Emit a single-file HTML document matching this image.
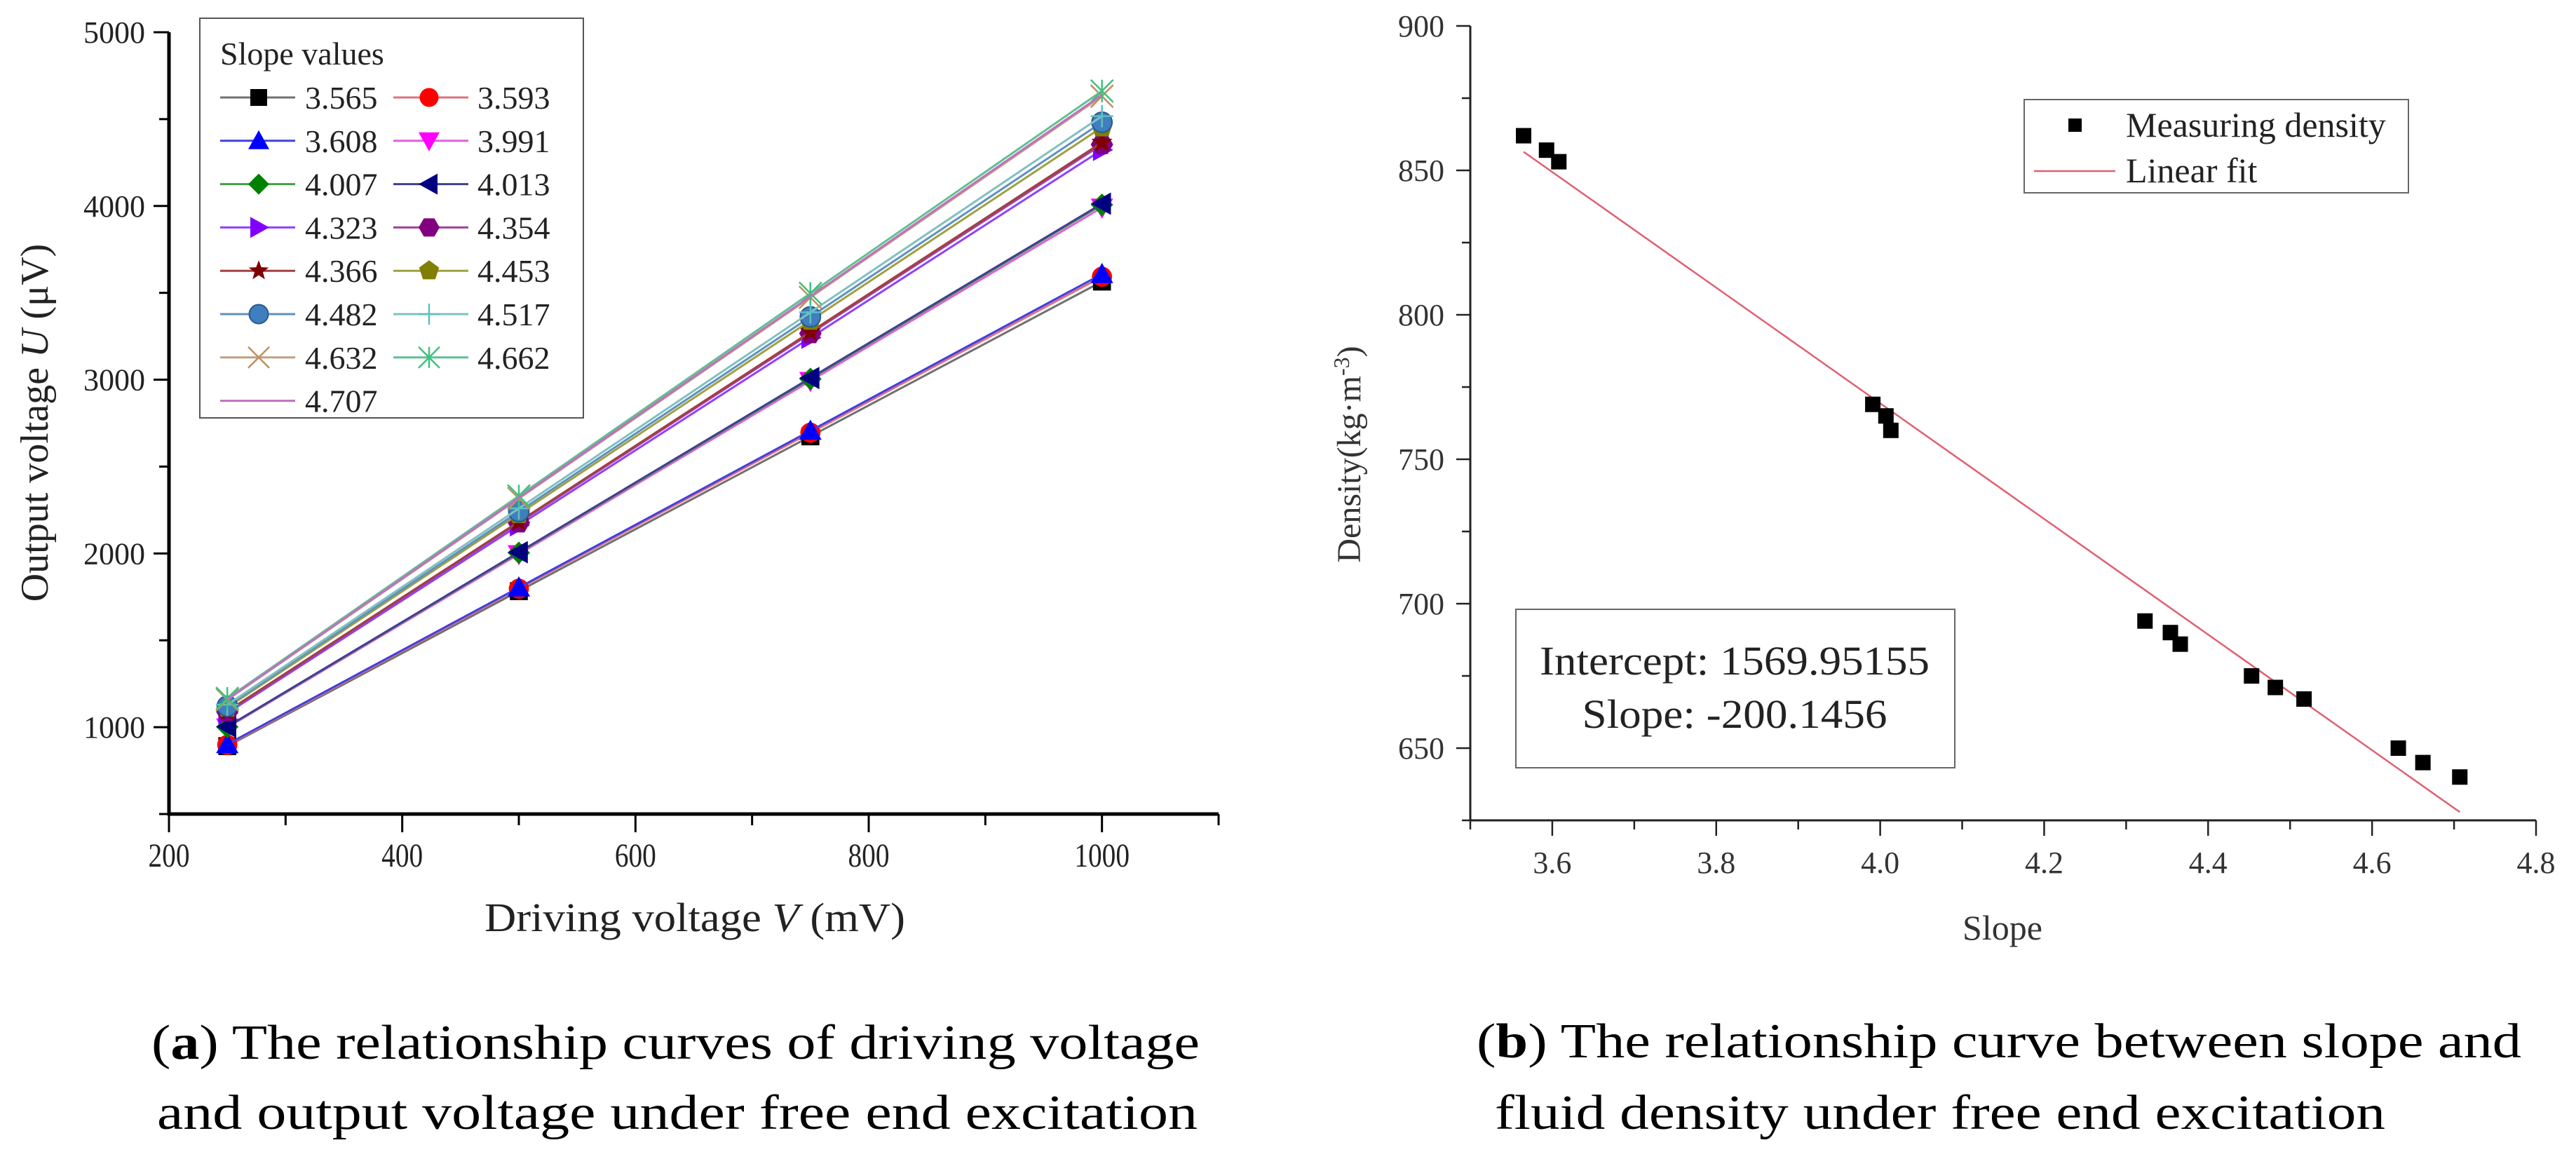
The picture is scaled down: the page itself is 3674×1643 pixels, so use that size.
<!DOCTYPE html>
<html><head><meta charset="utf-8"><style>
html,body{margin:0;padding:0;background:#fff;}
svg{display:block;font-family:"Liberation Serif",serif;}
</style></head><body>
<svg id="fig" width="3674" height="1643" viewBox="0 0 3674 1643">
  <g id="chartA"></g>
  <g id="chartB"></g>
  <text x="216" y="1510" font-size="70" textLength="1495" lengthAdjust="spacingAndGlyphs">(<tspan font-weight="bold">a</tspan>) The relationship curves of driving voltage</text>
  <text x="224" y="1610" font-size="70" textLength="1484" lengthAdjust="spacingAndGlyphs">and output voltage under free end excitation</text>
  <text x="2106" y="1508" font-size="70" textLength="1490" lengthAdjust="spacingAndGlyphs">(<tspan font-weight="bold">b</tspan>) The relationship curve between slope and</text>
  <text x="2132" y="1610" font-size="70" textLength="1270" lengthAdjust="spacingAndGlyphs">fluid density under free end excitation</text>
</svg>
<script>
// ---------- Chart A data ----------
const driveV = [250, 500, 750, 1000];
const seriesNames = ["3.565","3.593","3.608","3.991","4.007","4.013","4.323","4.354","4.366","4.453","4.482","4.517","4.632","4.662","4.707"];
const s3565 = [891, 1783, 2674, 3565];
const s3593 = [898, 1797, 2695, 3593];
const s3608 = [902, 1804, 2706, 3608];
const s3991 = [998, 1996, 2993, 3991];
const s4007 = [1002, 2004, 3005, 4007];
const s4013 = [1003, 2007, 3010, 4013];
const s4323 = [1081, 2162, 3242, 4323];
const s4354 = [1089, 2177, 3266, 4354];
const s4366 = [1092, 2183, 3275, 4366];
const s4453 = [1113, 2227, 3340, 4453];
const s4482 = [1121, 2241, 3362, 4482];
const s4517 = [1129, 2259, 3388, 4517];
const s4632 = [1158, 2316, 3474, 4632];
const s4662 = [1166, 2331, 3497, 4662];
const s4707 = [1160, 2320, 3480, 4640];
const yTicksA = [1000, 2000, 3000, 4000, 5000];
const xTicksA = [200, 400, 600, 800, 1000];

// ---------- Chart B data ----------
const slopeVals = [3.565,3.593,3.608,3.991,4.007,4.013,4.323,4.354,4.366,4.453,4.482,4.517,4.632,4.662,4.707];
const densityVals = [862,857,853,769,765,760,694,690,686,675,671,667,650,645,640];
const fitIntercept = 1569.95155;
const fitSlope = -200.1456;
const yTicksB = [650, 700, 750, 800, 850, 900];
const xTicksB = ["3.6","3.8","4.0","4.2","4.4","4.6","4.8"];

const NS = "http://www.w3.org/2000/svg";
function mk(parent, tag, attrs, text){
  const e = document.createElementNS(NS, tag);
  for (const k in attrs) e.setAttribute(k, attrs[k]);
  if (text !== undefined) e.textContent = text;
  parent.appendChild(e);
  return e;
}

// ================= Chart A =================
(function(){
  const g = document.getElementById('chartA');
  const X0=241, X1=1738, Y0=1161, Y1=46;
  const xmin=200,xmax=1100,ymin=500,ymax=5000;
  const sx = v => X0 + (v-xmin)/(xmax-xmin)*(X1-X0);
  const sy = v => Y0 - (v-ymin)/(ymax-ymin)*(Y0-Y1);
  const data = [s3565,s3593,s3608,s3991,s4007,s4013,s4323,s4354,s4366,s4453,s4482,s4517,s4632,s4662,s4707];
  const colors = ["#000000","#ff0000","#0000ff","#ff00ff","#008000","#000080","#8000ff","#800080","#800000","#808000","#3f7fbf","#5fbfbf","#c09060","#40c080","#c060c0"];
  const lineCols = ["#707070","#e07080","#4040e0","#e060e0","#40a040","#404090","#9040ff","#a040a0","#a04040","#a0a040","#6090c0","#80c0c0","#c0a080","#60c090","#c070c0"];
  const markers = ["square","circle","tri-up","tri-down","diamond","tri-left","tri-right","hexagon","star","pentagon","sphere","plus","cross","asterisk","none"];

  function marker(parent, type, cx, cy, r, col){
    let el;
    const poly = pts => mk(parent,'polygon',{points:pts.map(p=>p.join(',')).join(' '),fill:col});
    if(type==='square') el = mk(parent,'rect',{x:cx-r*0.8,y:cy-r*0.8,width:r*1.6,height:r*1.6,fill:col});
    else if(type==='circle') el = mk(parent,'circle',{cx:cx,cy:cy,r:r*0.9,fill:col});
    else if(type==='sphere') el = mk(parent,'circle',{cx:cx,cy:cy,r:r*0.9,fill:col,stroke:'#2a5a8a','stroke-width':2});
    else if(type==='tri-up') el = poly([[cx,cy-r],[cx+r,cy+r*0.8],[cx-r,cy+r*0.8]]);
    else if(type==='tri-down') el = poly([[cx,cy+r],[cx+r,cy-r*0.8],[cx-r,cy-r*0.8]]);
    else if(type==='tri-left') el = poly([[cx-r,cy],[cx+r*0.8,cy-r],[cx+r*0.8,cy+r]]);
    else if(type==='tri-right') el = poly([[cx+r,cy],[cx-r*0.8,cy-r],[cx-r*0.8,cy+r]]);
    else if(type==='diamond') el = poly([[cx,cy-r],[cx+r,cy],[cx,cy+r],[cx-r,cy]]);
    else if(type==='hexagon'){const p=[];for(let i=0;i<6;i++){const a=Math.PI/3*i;p.push([cx+r*Math.cos(a),cy+r*Math.sin(a)]);} el=poly(p);}
    else if(type==='pentagon'){const p=[];for(let i=0;i<5;i++){const a=-Math.PI/2+2*Math.PI/5*i;p.push([cx+r*Math.cos(a),cy+r*Math.sin(a)]);} el=poly(p);}
    else if(type==='star'){const p=[];for(let i=0;i<10;i++){const a=-Math.PI/2+Math.PI/5*i;const rr=i%2?r*0.42:r;p.push([cx+rr*Math.cos(a),cy+rr*Math.sin(a)]);} el=poly(p);}
    else if(type==='plus') el = mk(parent,'path',{d:`M${cx-r} ${cy}H${cx+r}M${cx} ${cy-r}V${cy+r}`,stroke:col,'stroke-width':2.5,fill:'none'});
    else if(type==='cross') el = mk(parent,'path',{d:`M${cx-r} ${cy-r}L${cx+r} ${cy+r}M${cx-r} ${cy+r}L${cx+r} ${cy-r}`,stroke:col,'stroke-width':2.5,fill:'none'});
    else if(type==='asterisk') el = mk(parent,'path',{d:`M${cx-r} ${cy-r}L${cx+r} ${cy+r}M${cx-r} ${cy+r}L${cx+r} ${cy-r}M${cx} ${cy-r}V${cy+r}`,stroke:col,'stroke-width':2.5,fill:'none'});
    return el;
  }

  // series
  data.forEach((vals, si) => {
    const sg = mk(g,'g',{});
    
    
    const pts = vals.map((v,i)=>sx(driveV[i])+','+sy(v)).join(' ');
    const ln = mk(sg,'polyline',{points:pts,fill:'none',stroke:lineCols[si],'stroke-width':3});
    
    
    vals.forEach((v,i)=>{
      const m = marker(sg, markers[si], sx(driveV[i]), sy(v), 16, colors[si]);
      if (m) {
        
        
      }
    });
  });

  // axes
  const ax = mk(g,'g',{});
  
  
  mk(ax,'line',{x1:X0,y1:Y1,x2:X0,y2:Y0+2,stroke:'#000','stroke-width':5});
  mk(ax,'line',{x1:X0-2,y1:Y0,x2:X1,y2:Y0,stroke:'#000','stroke-width':5});
  for(let v=ymin; v<=ymax; v+=500){
    const major = v%1000===0;
    mk(ax,'line',{x1:X0-(major?22:14),y1:sy(v),x2:X0,y2:sy(v),stroke:'#000','stroke-width':3});
  }
  yTicksA.forEach(v=>{
    const t = mk(ax,'text',{x:X0-34,y:sy(v)+15,'font-size':44,'text-anchor':'end',fill:'#222'},String(v));
    
    
  });
  for(let v=xmin; v<=xmax; v+=100){
    const major = v%200===0;
    mk(ax,'line',{x1:sx(v),y1:Y0,x2:sx(v),y2:Y0+(major?26:16),stroke:'#000','stroke-width':3});
  }
  xTicksA.forEach(v=>{
    const t = mk(ax,'text',{x:sx(v),y:Y0+75,'font-size':48,'text-anchor':'middle',fill:'#222',transform:`translate(${sx(v)*0.18},0) scale(0.82,1)`},String(v));
    t.setAttribute('x', sx(v));
    
    
  });
  const xt = mk(ax,'text',{x:991,y:1328,'font-size':58,'text-anchor':'middle',fill:'#222',textLength:600,lengthAdjust:'spacingAndGlyphs'});
  xt.innerHTML = 'Driving voltage <tspan font-style="italic">V</tspan> (mV)';
  
  
  const yt = mk(ax,'text',{x:0,y:0,'font-size':56,'text-anchor':'middle',fill:'#222',transform:'translate(68,603) rotate(-90)'});
  yt.innerHTML = 'Output voltage <tspan font-style="italic">U</tspan> (μV)';
  
  

  // legend
  const lg = mk(g,'g',{});
  
  
  mk(lg,'rect',{x:285,y:26,width:547,height:570,fill:'#fff',stroke:'#555','stroke-width':2});
  const lt = mk(lg,'text',{x:314,y:92,'font-size':46,fill:'#222'},'Slope values');
  
  
  seriesNames.forEach((nm,i)=>{
    const col = i%2, row = Math.floor(i/2);
    const y = 139 + row*61.8;
    const lx0 = col ? 561 : 314, lx1 = col ? 668 : 421;
    const mx = col ? 612 : 369, tx = col ? 681 : 435;
    const eg = mk(lg,'g',{});
    
    
    mk(eg,'line',{x1:lx0,y1:y,x2:lx1,y2:y,stroke:lineCols[i],'stroke-width':3});
    marker(eg, markers[i], mx, y, 15, colors[i]);
    mk(eg,'text',{x:tx,y:y+16,'font-size':46,fill:'#222'},nm);
  });
})();

// ================= Chart B =================
(function(){
  const g = document.getElementById('chartB');
  const X0=2097, X1=3617, Y0=1170, Y1=37;
  const xmin=3.5,xmax=4.8,ymin=625,ymax=900;
  const sx = v => X0 + (v-xmin)/(xmax-xmin)*(X1-X0);
  const sy = v => Y0 - (v-ymin)/(ymax-ymin)*(Y0-Y1);

  // fit line
  const xa = slopeVals[0], xb = slopeVals[slopeVals.length-1];
  const fl = mk(g,'line',{x1:sx(xa),y1:sy(fitIntercept+fitSlope*xa),x2:sx(xb),y2:sy(fitIntercept+fitSlope*xb),stroke:'#e06070','stroke-width':2.5});
  
  

  slopeVals.forEach((s,i)=>{
    const r = mk(g,'rect',{x:sx(s)-11,y:sy(densityVals[i])-11,width:22,height:22,fill:'#000'});
    
    
  });

  const ax = mk(g,'g',{});
  
  
  mk(ax,'line',{x1:X0,y1:Y1,x2:X0,y2:Y0+1,stroke:'#222','stroke-width':3});
  mk(ax,'line',{x1:X0-1,y1:Y0,x2:X1,y2:Y0,stroke:'#222','stroke-width':3});
  for(let v=ymin; v<=ymax; v+=25){
    const major = v%50===0;
    mk(ax,'line',{x1:X0-(major?20:12),y1:sy(v),x2:X0,y2:sy(v),stroke:'#222','stroke-width':2.5});
  }
  yTicksB.forEach(v=>{
    const t = mk(ax,'text',{x:2060,y:sy(v)+15,'font-size':44,'text-anchor':'end',fill:'#333'},String(v));
    
    
  });
  for(let k=0;k<=13;k++){
    const v = xmin + k*0.1;
    const major = k%2===1;
    mk(ax,'line',{x1:sx(v),y1:Y0,x2:sx(v),y2:Y0+(major?22:13),stroke:'#222','stroke-width':2.5});
  }
  xTicksB.forEach(lbl=>{
    const t = mk(ax,'text',{x:sx(parseFloat(lbl)),y:1245,'font-size':44,'text-anchor':'middle',fill:'#333'},lbl);
    
    
  });
  const xt = mk(ax,'text',{x:2856,y:1340,'font-size':50,'text-anchor':'middle',fill:'#333'},'Slope');
  
  
  const yt = mk(ax,'text',{x:0,y:0,'font-size':48,'text-anchor':'middle',fill:'#333',transform:'translate(1940,648) rotate(-90)'});
  yt.innerHTML = 'Density(kg·m<tspan dy="-16" font-size="32">-3</tspan><tspan dy="16">)</tspan>';
  
  

  // legend
  const lg = mk(g,'g',{});
  
  
  mk(lg,'rect',{x:2887,y:142,width:548,height:133,fill:'#fff',stroke:'#666','stroke-width':2});
  mk(lg,'rect',{x:2950,y:169,width:19,height:19,fill:'#000'});
  const t1 = mk(lg,'text',{x:3032,y:195,'font-size':50,fill:'#222'},'Measuring density');
  
  
  mk(lg,'line',{x1:2901,y1:244,x2:3017,y2:244,stroke:'#e06070','stroke-width':2.5});
  const t2 = mk(lg,'text',{x:3032,y:260,'font-size':50,fill:'#222'},'Linear fit');
  
  

  // annotation box
  const ab = mk(g,'g',{});
  
  
  mk(ab,'rect',{x:2162,y:869,width:626,height:226,fill:'#fff',stroke:'#666','stroke-width':2});
  mk(ab,'text',{x:2474,y:962,'font-size':58,'text-anchor':'middle',fill:'#222',textLength:556,lengthAdjust:'spacingAndGlyphs'},'Intercept: 1569.95155');
  mk(ab,'text',{x:2474,y:1038,'font-size':58,'text-anchor':'middle',fill:'#222',textLength:435,lengthAdjust:'spacingAndGlyphs'},'Slope: -200.1456');
})();
</script>
</body></html>
